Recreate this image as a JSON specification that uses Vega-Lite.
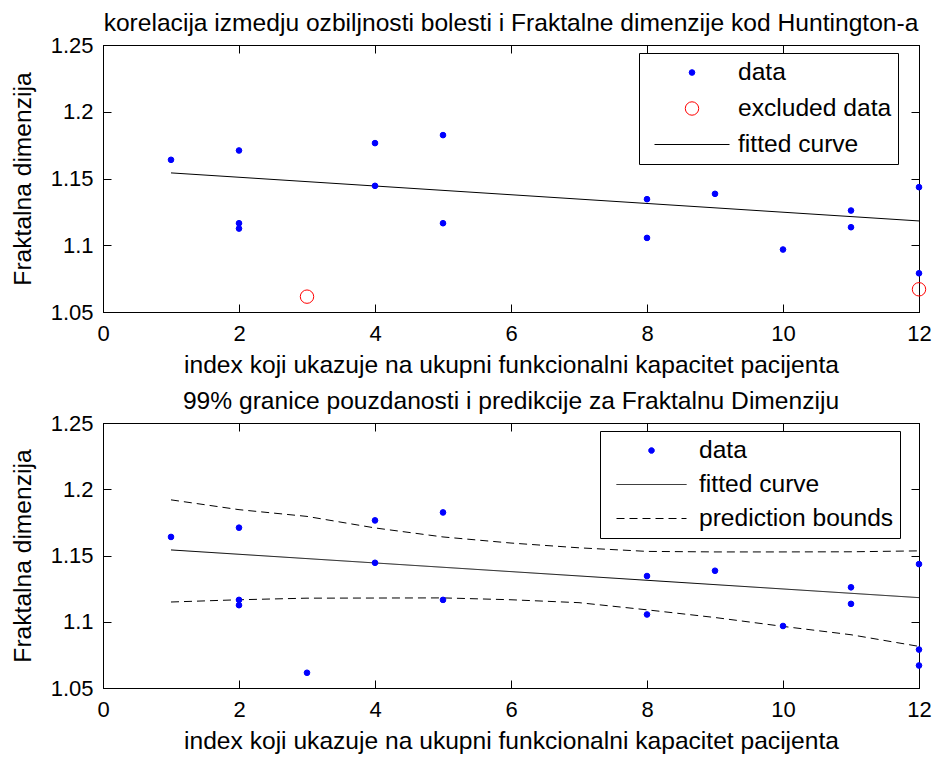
{
  "$schema": "https://vega.github.io/schema/vega-lite/v6.json",
  "background": "white",
  "padding": {"left": 9, "top": 10, "right": 5, "bottom": 2},
  "spacing": 10,
  "config": {
    "font": "Liberation Sans",
    "view": {"stroke": "black", "strokeWidth": 1},
    "axis": {
      "grid": false,
      "domainColor": "black",
      "domainWidth": 1,
      "tickColor": "black",
      "tickWidth": 1,
      "tickSize": -8,
      "labelColor": "black",
      "labelFontSize": 22,
      "labelFlush": false,
      "labelOverlap": false,
      "titleColor": "black",
      "titleFontSize": 24.6,
      "titleFontWeight": "normal",
      "titlePadding": 9
    },
    "axisX": {"labelPadding": 19},
    "axisY": {"labelPadding": 18, "titlePadding": 15},
    "title": {"fontSize": 24.6, "fontWeight": "normal", "color": "black"},
    "legend": {
      "labelFontSize": 24.6,
      "labelColor": "black",
      "labelLimit": 400,
      "strokeColor": "black",
      "fillColor": "white",
      "symbolStrokeWidth": 1,
      "symbolOpacity": 1
    }
  },
  "datasets": {
    "fit_points": [
      {"x": 1, "y": 1.164, "series": "data"},
      {"x": 2, "y": 1.171, "series": "data"},
      {"x": 2, "y": 1.1165, "series": "data"},
      {"x": 2, "y": 1.1125, "series": "data"},
      {"x": 3, "y": 1.0615, "series": "excluded data"},
      {"x": 4, "y": 1.1765, "series": "data"},
      {"x": 4, "y": 1.1445, "series": "data"},
      {"x": 5, "y": 1.1825, "series": "data"},
      {"x": 5, "y": 1.1165, "series": "data"},
      {"x": 8, "y": 1.1345, "series": "data"},
      {"x": 8, "y": 1.1055, "series": "data"},
      {"x": 9, "y": 1.1385, "series": "data"},
      {"x": 10, "y": 1.0968, "series": "data"},
      {"x": 11, "y": 1.126, "series": "data"},
      {"x": 11, "y": 1.1135, "series": "data"},
      {"x": 12, "y": 1.1435, "series": "data"},
      {"x": 12, "y": 1.079, "series": "data"},
      {"x": 12, "y": 1.067, "series": "excluded data"}
    ],
    "fit_line": [
      {"x": 1, "y": 1.1542, "series": "fitted curve"},
      {"x": 12, "y": 1.1182, "series": "fitted curve"}
    ],
    "band_points": [
      {"x": 1, "y": 1.164, "series": "data"},
      {"x": 2, "y": 1.171, "series": "data"},
      {"x": 2, "y": 1.1165, "series": "data"},
      {"x": 2, "y": 1.1125, "series": "data"},
      {"x": 3, "y": 1.0615, "series": "data"},
      {"x": 4, "y": 1.1765, "series": "data"},
      {"x": 4, "y": 1.1445, "series": "data"},
      {"x": 5, "y": 1.1825, "series": "data"},
      {"x": 5, "y": 1.1165, "series": "data"},
      {"x": 8, "y": 1.1345, "series": "data"},
      {"x": 8, "y": 1.1055, "series": "data"},
      {"x": 9, "y": 1.1385, "series": "data"},
      {"x": 10, "y": 1.0968, "series": "data"},
      {"x": 11, "y": 1.126, "series": "data"},
      {"x": 11, "y": 1.1135, "series": "data"},
      {"x": 12, "y": 1.1435, "series": "data"},
      {"x": 12, "y": 1.079, "series": "data"},
      {"x": 12, "y": 1.067, "series": "data"}
    ],
    "band_line": [
      {"x": 1, "y": 1.1542, "series": "fitted curve"},
      {"x": 12, "y": 1.1182, "series": "fitted curve"}
    ],
    "band_bounds": [
      {"x": 1, "y": 1.192, "bound": "upper", "series": "prediction bounds"},
      {"x": 2, "y": 1.1846, "bound": "upper", "series": "prediction bounds"},
      {"x": 3, "y": 1.1795, "bound": "upper", "series": "prediction bounds"},
      {"x": 4, "y": 1.1708, "bound": "upper", "series": "prediction bounds"},
      {"x": 5, "y": 1.164, "bound": "upper", "series": "prediction bounds"},
      {"x": 6, "y": 1.1594, "bound": "upper", "series": "prediction bounds"},
      {"x": 7, "y": 1.1558, "bound": "upper", "series": "prediction bounds"},
      {"x": 8, "y": 1.1531, "bound": "upper", "series": "prediction bounds"},
      {"x": 9, "y": 1.1527, "bound": "upper", "series": "prediction bounds"},
      {"x": 10, "y": 1.1527, "bound": "upper", "series": "prediction bounds"},
      {"x": 11, "y": 1.1528, "bound": "upper", "series": "prediction bounds"},
      {"x": 12, "y": 1.1535, "bound": "upper", "series": "prediction bounds"},
      {"x": 1, "y": 1.1149, "bound": "lower", "series": "prediction bounds"},
      {"x": 2, "y": 1.1166, "bound": "lower", "series": "prediction bounds"},
      {"x": 3, "y": 1.1178, "bound": "lower", "series": "prediction bounds"},
      {"x": 4, "y": 1.1179, "bound": "lower", "series": "prediction bounds"},
      {"x": 5, "y": 1.118, "bound": "lower", "series": "prediction bounds"},
      {"x": 6, "y": 1.1166, "bound": "lower", "series": "prediction bounds"},
      {"x": 7, "y": 1.1144, "bound": "lower", "series": "prediction bounds"},
      {"x": 8, "y": 1.109, "bound": "lower", "series": "prediction bounds"},
      {"x": 9, "y": 1.1032, "bound": "lower", "series": "prediction bounds"},
      {"x": 10, "y": 1.0965, "bound": "lower", "series": "prediction bounds"},
      {"x": 11, "y": 1.0902, "bound": "lower", "series": "prediction bounds"},
      {"x": 12, "y": 1.0814, "bound": "lower", "series": "prediction bounds"}
    ]
  },
  "vconcat": [
    {
      "width": 816,
      "height": 267,
      "title": {
        "text": "korelacija izmedju ozbiljnosti bolesti i Fraktalne dimenzije kod Huntington-a",
        "offset": -3
      },
      "resolve": {"axis": {"x": "independent", "y": "independent"}},
      "layer": [
        {
          "data": {"name": "fit_line"},
          "mark": {"type": "line", "strokeWidth": 1},
          "encoding": {
            "x": {
              "field": "x", "type": "quantitative",
              "scale": {"domain": [0, 12], "nice": false, "zero": false},
              "axis": {"orient": "top", "values": [0, 2, 4, 6, 8, 10, 12], "labels": false, "title": null}
            },
            "y": {
              "field": "y", "type": "quantitative",
              "scale": {"domain": [1.05, 1.25], "nice": false, "zero": false},
              "axis": {"orient": "right", "values": [1.05, 1.1, 1.15, 1.2, 1.25], "labels": false, "title": null}
            },
            "stroke": {
              "field": "series", "type": "nominal",
              "scale": {"domain": ["data", "excluded data", "fitted curve"], "range": ["#0000ff", "#ff0000", "#000000"]},
              "legend": {"title": null, "orient": "none", "legendX": 536, "legendY": 8, "padding": 6, "symbolOffset": 9, "labelOffset": 8, "clipHeight": 27, "rowPadding": 9}
            }
          }
        },
        {
          "data": {"name": "fit_points"},
          "mark": {"type": "point", "opacity": 1, "strokeWidth": 1},
          "encoding": {
            "x": {
              "field": "x", "type": "quantitative",
              "scale": {"domain": [0, 12], "nice": false, "zero": false},
              "axis": {"values": [0, 2, 4, 6, 8, 10, 12], "format": "d", "title": "index koji ukazuje na ukupni funkcionalni kapacitet pacijenta"}
            },
            "y": {
              "field": "y", "type": "quantitative",
              "scale": {"domain": [1.05, 1.25], "nice": false, "zero": false},
              "axis": {"values": [1.05, 1.1, 1.15, 1.2, 1.25], "format": "~g", "title": "Fraktalna dimenzija"}
            },
            "stroke": {
              "field": "series", "type": "nominal",
              "scale": {"domain": ["data", "excluded data", "fitted curve"], "range": ["#0000ff", "#ff0000", "#000000"]},
              "legend": {"title": null, "orient": "none", "legendX": 536, "legendY": 8, "padding": 6, "symbolOffset": 9, "labelOffset": 8, "clipHeight": 27, "rowPadding": 9}
            },
            "fill": {
              "field": "series", "type": "nominal",
              "scale": {"domain": ["data", "excluded data", "fitted curve"], "range": ["#0000ff", "transparent", "transparent"]},
              "legend": {"title": null, "orient": "none", "legendX": 536, "legendY": 8, "padding": 6, "symbolOffset": 9, "labelOffset": 8, "clipHeight": 27, "rowPadding": 9}
            },
            "shape": {
              "field": "series", "type": "nominal",
              "scale": {"domain": ["data", "excluded data", "fitted curve"], "range": ["circle", "circle", "stroke"]},
              "legend": {"title": null, "orient": "none", "legendX": 536, "legendY": 8, "padding": 6, "symbolOffset": 9, "labelOffset": 8, "clipHeight": 27, "rowPadding": 9}
            },
            "size": {
              "field": "series", "type": "nominal",
              "scale": {"type": "ordinal", "domain": ["data", "excluded data", "fitted curve"], "range": [32, 180, 5625]},
              "legend": {"title": null, "orient": "none", "legendX": 536, "legendY": 8, "padding": 6, "symbolOffset": 9, "labelOffset": 8, "clipHeight": 27, "rowPadding": 9}
            }
          }
        }
      ]
    },
    {
      "width": 816,
      "height": 265,
      "title": {
        "text": "99% granice pouzdanosti i predikcije za Fraktalnu Dimenziju",
        "offset": -3
      },
      "resolve": {"axis": {"x": "independent", "y": "independent"}},
      "layer": [
        {
          "data": {"name": "band_line"},
          "mark": {"type": "line", "strokeWidth": 1},
          "encoding": {
            "x": {
              "field": "x", "type": "quantitative",
              "scale": {"domain": [0, 12], "nice": false, "zero": false},
              "axis": {"orient": "top", "values": [0, 2, 4, 6, 8, 10, 12], "labels": false, "title": null}
            },
            "y": {
              "field": "y", "type": "quantitative",
              "scale": {"domain": [1.05, 1.25], "nice": false, "zero": false},
              "axis": {"orient": "right", "values": [1.05, 1.1, 1.15, 1.2, 1.25], "labels": false, "title": null}
            },
            "stroke": {
              "field": "series", "type": "nominal",
              "scale": {"domain": ["data", "fitted curve", "prediction bounds"], "range": ["#0000ff", "#000000", "#000000"]},
              "legend": {"title": null, "orient": "none", "legendX": 497, "legendY": 8, "padding": 6, "symbolOffset": 10, "labelOffset": 12, "clipHeight": 27, "rowPadding": 7}
            },
            "strokeDash": {
              "field": "series", "type": "nominal",
              "scale": {"domain": ["data", "fitted curve", "prediction bounds"], "range": [[1, 0], [1, 0], [8, 5]]},
              "legend": {"title": null, "orient": "none", "legendX": 497, "legendY": 8, "padding": 6, "symbolOffset": 10, "labelOffset": 12, "clipHeight": 27, "rowPadding": 7}
            }
          }
        },
        {
          "data": {"name": "band_bounds"},
          "mark": {"type": "line", "strokeWidth": 1},
          "encoding": {
            "x": {
              "field": "x", "type": "quantitative",
              "scale": {"domain": [0, 12], "nice": false, "zero": false},
              "axis": null
            },
            "y": {
              "field": "y", "type": "quantitative",
              "scale": {"domain": [1.05, 1.25], "nice": false, "zero": false},
              "axis": null
            },
            "detail": {"field": "bound", "type": "nominal"},
            "stroke": {
              "field": "series", "type": "nominal",
              "scale": {"domain": ["data", "fitted curve", "prediction bounds"], "range": ["#0000ff", "#000000", "#000000"]},
              "legend": {"title": null, "orient": "none", "legendX": 497, "legendY": 8, "padding": 6, "symbolOffset": 10, "labelOffset": 12, "clipHeight": 27, "rowPadding": 7}
            },
            "strokeDash": {
              "field": "series", "type": "nominal",
              "scale": {"domain": ["data", "fitted curve", "prediction bounds"], "range": [[1, 0], [1, 0], [8, 5]]},
              "legend": {"title": null, "orient": "none", "legendX": 497, "legendY": 8, "padding": 6, "symbolOffset": 10, "labelOffset": 12, "clipHeight": 27, "rowPadding": 7}
            }
          }
        },
        {
          "data": {"name": "band_points"},
          "mark": {"type": "point", "opacity": 1, "strokeWidth": 1},
          "encoding": {
            "x": {
              "field": "x", "type": "quantitative",
              "scale": {"domain": [0, 12], "nice": false, "zero": false},
              "axis": {"values": [0, 2, 4, 6, 8, 10, 12], "format": "d", "title": "index koji ukazuje na ukupni funkcionalni kapacitet pacijenta"}
            },
            "y": {
              "field": "y", "type": "quantitative",
              "scale": {"domain": [1.05, 1.25], "nice": false, "zero": false},
              "axis": {"values": [1.05, 1.1, 1.15, 1.2, 1.25], "format": "~g", "title": "Fraktalna dimenzija"}
            },
            "stroke": {
              "field": "series", "type": "nominal",
              "scale": {"domain": ["data", "fitted curve", "prediction bounds"], "range": ["#0000ff", "#000000", "#000000"]},
              "legend": {"title": null, "orient": "none", "legendX": 497, "legendY": 8, "padding": 6, "symbolOffset": 10, "labelOffset": 12, "clipHeight": 27, "rowPadding": 7}
            },
            "fill": {
              "field": "series", "type": "nominal",
              "scale": {"domain": ["data", "fitted curve", "prediction bounds"], "range": ["#0000ff", "transparent", "transparent"]},
              "legend": {"title": null, "orient": "none", "legendX": 497, "legendY": 8, "padding": 6, "symbolOffset": 10, "labelOffset": 12, "clipHeight": 27, "rowPadding": 7}
            },
            "shape": {
              "field": "series", "type": "nominal",
              "scale": {"domain": ["data", "fitted curve", "prediction bounds"], "range": ["circle", "stroke", "stroke"]},
              "legend": {"title": null, "orient": "none", "legendX": 497, "legendY": 8, "padding": 6, "symbolOffset": 10, "labelOffset": 12, "clipHeight": 27, "rowPadding": 7}
            },
            "size": {
              "field": "series", "type": "nominal",
              "scale": {"type": "ordinal", "domain": ["data", "fitted curve", "prediction bounds"], "range": [32, 4900, 4900]},
              "legend": {"title": null, "orient": "none", "legendX": 497, "legendY": 8, "padding": 6, "symbolOffset": 10, "labelOffset": 12, "clipHeight": 27, "rowPadding": 7}
            }
          }
        }
      ]
    }
  ],
  "resolve": {
    "scale": {"stroke": "independent", "fill": "independent", "shape": "independent", "size": "independent", "strokeDash": "independent"},
    "legend": {"stroke": "independent", "fill": "independent", "shape": "independent", "size": "independent", "strokeDash": "independent"}
  }
}
